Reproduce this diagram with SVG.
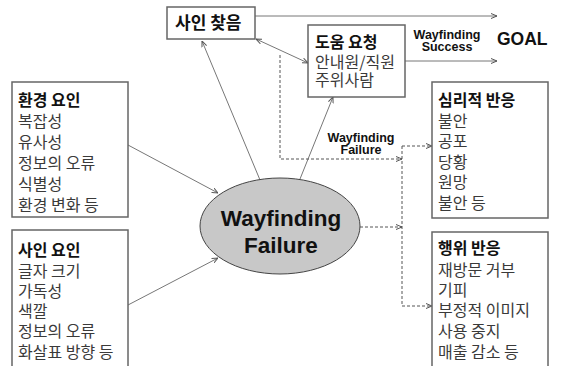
<svg xmlns="http://www.w3.org/2000/svg" width="565" height="366" viewBox="0 0 565 366">
<style>
.box{fill:#fff;stroke:#666;stroke-width:1.5}
.h{font-family:"Noto Sans CJK KR","Noto Sans",sans-serif;font-size:16px;font-weight:bold;fill:#111}
.t{font-family:"Noto Sans CJK KR","Noto Sans",sans-serif;font-size:16px;fill:#3a3a3a}
.ln{stroke:#777;stroke-width:1;fill:none}
.dash{stroke:#555;stroke-width:1;stroke-dasharray:3,2;fill:none}
.lab{font-family:"Liberation Sans",Arial,sans-serif;font-weight:bold;font-size:12.5px;text-anchor:middle;fill:#111}
</style>
<defs>
<marker id="a" viewBox="0 0 6 6" refX="6" refY="3" markerWidth="6" markerHeight="6" orient="auto-start-reverse" markerUnits="userSpaceOnUse">
<path d="M0,0.5 L6,3 L0,5.5" fill="none" stroke="#555" stroke-width="1"/>
</marker>
</defs>
<g id="connectors">
<line class="ln" x1="255" y1="16" x2="497" y2="16" marker-end="url(#a)"/>
<line class="ln" x1="405" y1="61" x2="497" y2="61" marker-end="url(#a)"/>
<line class="ln" x1="256" y1="39" x2="308" y2="63" marker-start="url(#a)" marker-end="url(#a)"/>
<line class="ln" x1="260" y1="180" x2="202" y2="41" marker-end="url(#a)"/>
<line class="ln" x1="300" y1="179" x2="333" y2="97" marker-end="url(#a)"/>
<line class="ln" x1="128" y1="145" x2="218" y2="193" marker-end="url(#a)"/>
<line class="ln" x1="128" y1="305" x2="218" y2="258" marker-end="url(#a)"/>
<polyline class="dash" points="280,55 280,159 402,159" marker-end="url(#a)"/>
<line class="dash" x1="360" y1="227" x2="402" y2="227" marker-end="url(#a)"/>
<line class="dash" x1="402" y1="146" x2="402" y2="306"/>
<line class="dash" x1="402" y1="146" x2="432" y2="146" marker-end="url(#a)"/>
<line class="dash" x1="402" y1="306" x2="432" y2="306" marker-end="url(#a)"/>
</g>
<g id="labels">
<text class="lab" x="447" y="39">Wayfinding</text>
<text class="lab" x="447" y="51">Success</text>
<text class="lab" x="361" y="142">Wayfinding</text>
<text class="lab" x="361" y="154">Failure</text>
</g>
<g id="goal">
<text x="497" y="44.5" font-family="Liberation Sans,Arial,sans-serif" font-weight="bold" font-size="17.5" fill="#111">GOAL</text>
</g>
<g id="sign-search">
<rect class="box" x="167" y="7" width="88" height="32"/>
<text class="h" x="175" y="29" style="font-size:17px">사인 찾음</text>
</g>
<g id="help-request">
<rect class="box" x="308" y="25" width="97" height="72"/>
<text class="h" x="315" y="48">도움 요청</text>
<text class="t" x="315" y="68">안내원/직원</text>
<text class="t" x="315" y="86">주위사람</text>
</g>
<g id="env-factor">
<rect class="box" x="12" y="82" width="116" height="135"/>
<text class="h" x="18" y="106">환경 요인</text>
<text class="t" x="18" y="127">복잡성</text>
<text class="t" x="18" y="148">유사성</text>
<text class="t" x="18" y="169">정보의 오류</text>
<text class="t" x="18" y="190">식별성</text>
<text class="t" x="18" y="211">환경 변화 등</text>
</g>
<g id="sign-factor">
<rect class="box" x="12" y="230" width="116" height="145"/>
<text class="h" x="18" y="256">사인 요인</text>
<text class="t" x="18" y="277">글자 크기</text>
<text class="t" x="18" y="297">가독성</text>
<text class="t" x="18" y="317">색깔</text>
<text class="t" x="18" y="337">정보의 오류</text>
<text class="t" x="18" y="358">화살표 방향 등</text>
</g>
<g id="psych">
<rect class="box" x="432" y="82" width="116" height="136"/>
<text class="h" x="438" y="106">심리적 반응</text>
<text class="t" x="438" y="127">불안</text>
<text class="t" x="438" y="147">공포</text>
<text class="t" x="438" y="168">당황</text>
<text class="t" x="438" y="188">원망</text>
<text class="t" x="438" y="209">불안 등</text>
</g>
<g id="behav">
<rect class="box" x="432" y="232" width="116" height="145"/>
<text class="h" x="438" y="254">행위 반응</text>
<text class="t" x="438" y="276">재방문 거부</text>
<text class="t" x="438" y="296">기피</text>
<text class="t" x="438" y="316">부정적 이미지</text>
<text class="t" x="438" y="337">사용 중지</text>
<text class="t" x="438" y="358">매출 감소 등</text>
</g>
<g id="wayfinding-failure">
<ellipse cx="280" cy="226" rx="80" ry="48" fill="#c8c8c8" stroke="#444" stroke-width="1"/>
<text x="281" y="226" text-anchor="middle" font-family="Liberation Sans,Arial,sans-serif" font-weight="bold" font-size="22.5" fill="#111">Wayfinding</text>
<text x="281" y="253" text-anchor="middle" font-family="Liberation Sans,Arial,sans-serif" font-weight="bold" font-size="22.5" fill="#111">Failure</text>
</g>
</svg>
